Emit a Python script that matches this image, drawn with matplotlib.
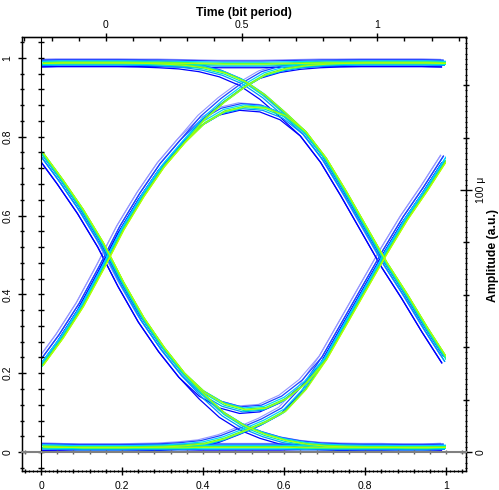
import numpy as np
import matplotlib
matplotlib.use('Agg')
import matplotlib.pyplot as plt
from matplotlib.ticker import MultipleLocator, FixedLocator, NullFormatter
from matplotlib.patches import Rectangle

plt.rcParams['font.family'] = ['Liberation Sans', 'DejaVu Sans']

# sample grid on the lower (normalised time) axis
t = np.linspace(0, 1, 21)

# eye trajectories, amplitude at each t
rail_hi = [0.987, 0.988, 0.988, 0.988, 0.988, 0.988, 0.988, 0.987, 0.986, 0.985, 0.985,
           0.985, 0.986, 0.987, 0.988, 0.988, 0.988, 0.988, 0.988, 0.988, 0.987]
hi_fall = [0.987, 0.988, 0.988, 0.988, 0.988, 0.987, 0.985, 0.982, 0.975, 0.962, 0.940,
           0.905, 0.860, 0.812, 0.745, 0.660, 0.570, 0.480, 0.400, 0.315, 0.235]
rise_hi = [0.220, 0.290, 0.370, 0.465, 0.565, 0.650, 0.725, 0.785, 0.845, 0.890, 0.928,
           0.958, 0.973, 0.981, 0.985, 0.987, 0.988, 0.988, 0.988, 0.988, 0.987]
peak = [0.220, 0.290, 0.370, 0.465, 0.565, 0.650, 0.725, 0.785, 0.835, 0.865, 0.877,
        0.873, 0.853, 0.812, 0.745, 0.660, 0.570, 0.480, 0.400, 0.315, 0.235]
rail_lo = [0.014, 0.013, 0.012, 0.012, 0.012, 0.012, 0.012, 0.012, 0.013, 0.013, 0.013,
           0.013, 0.013, 0.012, 0.012, 0.012, 0.012, 0.012, 0.012, 0.012, 0.013]
lo_rise = [0.014, 0.013, 0.012, 0.012, 0.012, 0.013, 0.014, 0.017, 0.022, 0.035, 0.055,
           0.077, 0.105, 0.160, 0.235, 0.325, 0.415, 0.505, 0.590, 0.665, 0.745]
fall_lo = [0.760, 0.690, 0.615, 0.530, 0.430, 0.340, 0.265, 0.200, 0.145, 0.098, 0.066,
           0.045, 0.030, 0.021, 0.016, 0.014, 0.013, 0.013, 0.012, 0.012, 0.013]
dip = [0.760, 0.690, 0.615, 0.530, 0.430, 0.340, 0.265, 0.200, 0.152, 0.122, 0.108,
       0.112, 0.135, 0.175, 0.235, 0.325, 0.415, 0.505, 0.590, 0.665, 0.745]

trajectories = [rail_hi, hi_fall, rise_hi, peak, rail_lo, lo_rise, fall_lo, dip]

# per-trace jitter (time, amplitude) and colour, blue = sparse, yellow = dense
jitter = [(-0.013, 0.009, '#9696ff', 0.8),
          (-0.010, -0.010, '#0000ff', 0.9),
          (-0.006, 0.007, '#1e46ff', 0.9),
          (-0.003, -0.006, '#0096ff', 0.9),
          (0.000, 0.004, '#00d2ff', 0.9),
          (0.002, -0.003, '#00f0b4', 0.9),
          (0.004, 0.001, '#50ff3c', 0.9),
          (0.005, -0.001, '#b4ff00', 0.7)]

xlim = (-0.047, 1.049)
ylim = (-0.048, 1.053)
fs = 7.5
fs_lab = 8.8

fig = plt.figure(figsize=(4.99, 4.9), dpi=100)
pos = [22 / 499, 19 / 490, 444 / 499, 434 / 490]
ax = fig.add_axes(pos)
ax.set_xlim(*xlim)
ax.set_ylim(*ylim)

clip = Rectangle((0, -0.2), 1, 1.5, transform=ax.transData)
for dx, dy, col, lw in jitter:
    for y in trajectories:
        ln, = ax.plot(t + dx, np.array(y) + dy, color=col, lw=lw, solid_capstyle='butt')
        ln.set_clip_path(clip)

for s in ax.spines.values():
    s.set_linewidth(1.0)
ax.xaxis.set_major_locator(MultipleLocator(0.2))
ax.xaxis.set_minor_locator(MultipleLocator(0.04))
ax.yaxis.set_major_locator(MultipleLocator(0.2))
ax.yaxis.set_minor_locator(MultipleLocator(0.04))
ax.xaxis.set_major_formatter(plt.FuncFormatter(lambda v, p: f'{v:g}'))
ax.yaxis.set_major_formatter(plt.FuncFormatter(lambda v, p: f'{v:g}'))
ax.tick_params(which='major', direction='inout', length=6, width=1, labelsize=fs, pad=4)
ax.tick_params(which='minor', direction='inout', length=3, width=1)
ax.tick_params(axis='y', labelrotation=90)
for lbl in ax.get_yticklabels():
    lbl.set_va('center')

# top axis in bit periods
sec = ax.secondary_xaxis('top', functions=(lambda x: (x - 0.16) / 0.67,
                                           lambda b: 0.16 + 0.67 * b))
sec.xaxis.set_major_locator(FixedLocator([0, 0.5, 1]))
sec.xaxis.set_minor_locator(MultipleLocator(0.1))
sec.xaxis.set_major_formatter(plt.FuncFormatter(lambda v, p: f'{v:g}'))
sec.tick_params(which='major', direction='inout', length=6, width=1, labelsize=fs, pad=2)
sec.tick_params(which='minor', direction='in', length=3, width=1)
sec.set_xlabel('Time (bit period)', fontsize=fs_lab, fontweight='bold', labelpad=3)

# right axis in absolute amplitude
scale = 150.4
axr = ax.twinx()
axr.set_ylim(ylim[0] * scale, ylim[1] * scale)
axr.yaxis.set_major_locator(FixedLocator([0, 100]))
axr.yaxis.set_major_formatter(plt.FuncFormatter(lambda v, p: '0' if v == 0 else '100 \u03bc'))
axr.yaxis.set_minor_locator(MultipleLocator(20))
axr.tick_params(which='major', direction='inout', length=8, width=1, labelsize=fs, pad=3,
                labelrotation=90)
axr.tick_params(which='minor', direction='inout', length=4, width=1)
for lbl in axr.get_yticklabels():
    lbl.set_va('center')
fig.text(493 / 499, (490 - 255) / 490, 'Amplitude (a.u.)', fontsize=fs_lab, fontweight='bold',
         rotation=90, ha='center', va='center')

# fine ruler ticks on the right and bottom frame
axf = fig.add_axes(pos, frameon=False)
axf.set_xlim(*xlim)
axf.set_ylim(ylim[0] * scale, ylim[1] * scale)
axf.patch.set_visible(False)
axf.yaxis.tick_right()
axf.yaxis.set_major_locator(MultipleLocator(2))
axf.xaxis.set_major_locator(MultipleLocator(0.01))
axf.yaxis.set_major_formatter(NullFormatter())
axf.xaxis.set_major_formatter(NullFormatter())
axf.tick_params(which='major', direction='inout', length=2, width=0.8)

# inner axis lines through the origin
axi = fig.add_axes(pos)
axi.set_xlim(*xlim)
axi.set_ylim(*ylim)
axi.patch.set_visible(False)
axi.spines['top'].set_visible(False)
axi.spines['right'].set_visible(False)
axi.spines['left'].set_position(('data', 0))
axi.spines['bottom'].set_position(('data', 0))
axi.spines['bottom'].set_color('#808080')
axi.spines['bottom'].set_linewidth(1.5)
axi.xaxis.set_major_locator(MultipleLocator(0.04))
axi.yaxis.set_major_locator(MultipleLocator(0.04))
axi.xaxis.set_major_formatter(NullFormatter())
axi.yaxis.set_major_formatter(NullFormatter())
axi.tick_params(axis='x', direction='inout', length=3, width=1, colors='#606060')
axi.tick_params(axis='y', direction='inout', length=4, width=1)

fig.savefig('out.png', dpi=100)
